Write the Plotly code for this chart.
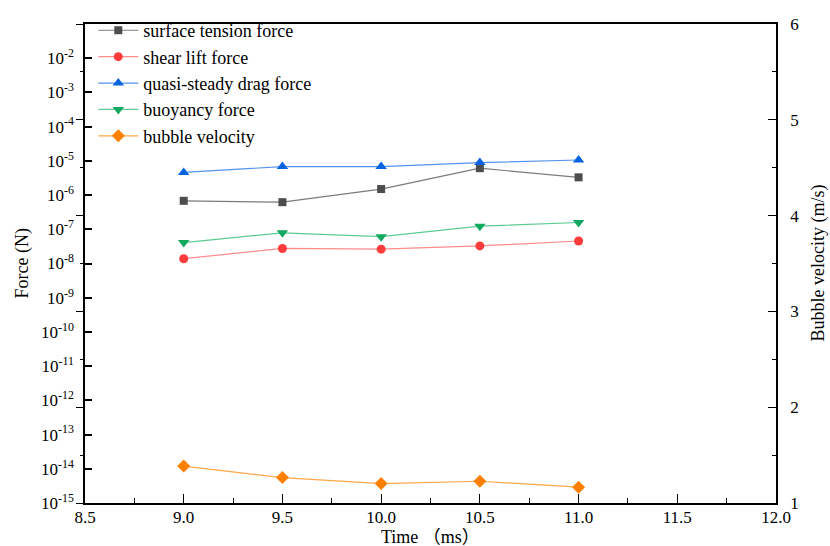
import plotly.graph_objects as go

# Time points (ms)
time_ms = [9.0, 9.5, 10.0, 10.5, 11.0]

# Forces (N)
surface_tension = [6.8e-7, 6.2e-7, 1.5e-6, 6.1e-6, 3.3e-6]
shear_lift = [1.38e-8, 2.75e-8, 2.63e-8, 3.26e-8, 4.55e-8]
quasi_steady_drag = [4.6e-6, 6.8e-6, 6.8e-6, 8.9e-6, 1.06e-5]
buoyancy = [4.1e-8, 7.9e-8, 6.1e-8, 1.23e-7, 1.58e-7]

# Bubble velocity (m/s)
bubble_velocity = [1.385, 1.265, 1.203, 1.227, 1.165]

# Axis ticks
x_ticks = [8.5, 9.0, 9.5, 10.0, 10.5, 11.0, 11.5, 12.0]
force_exponents = list(range(-15, -1))
velocity_ticks = [1, 2, 3, 4, 5, 6]

FONT = "Liberation Serif"

fig = go.Figure()

series = [
    ("surface tension force", surface_tension, "square", 8, "#4d4d4d", "rgba(90,90,90,0.8)"),
    ("shear lift force", shear_lift, "circle", 9, "#ff3b3b", "rgba(255,110,110,0.8)"),
    ("quasi-steady drag force", quasi_steady_drag, "triangle-up", 10, "#0a64e0", "rgba(40,120,230,0.8)"),
    ("buoyancy force", buoyancy, "triangle-down", 10, "#12a860", "rgba(50,190,120,0.8)"),
]
for name, vals, sym, size, mcol, lcol in series:
    fig.add_trace(go.Scatter(
        x=time_ms, y=vals, name=name, mode="lines+markers",
        line=dict(color=lcol, width=1.2),
        marker=dict(symbol=sym, size=size, color=mcol),
        yaxis="y",
    ))

fig.add_trace(go.Scatter(
    x=time_ms, y=bubble_velocity, name="bubble velocity", mode="lines+markers",
    line=dict(color="rgba(255,150,40,0.85)", width=1.2),
    marker=dict(symbol="diamond", size=10, color="#ff8000"),
    yaxis="y2",
))

# Invisible trace to carry the outward ticks of the velocity scale on the left spine
fig.add_trace(go.Scatter(
    x=[None], y=[None], yaxis="y3", showlegend=False, hoverinfo="skip",
))

fig.update_layout(
    width=830, height=546,
    margin=dict(l=85, r=54, t=18, b=43),
    paper_bgcolor="white", plot_bgcolor="white",
    font=dict(family=FONT, size=17, color="black"),
    showlegend=True,
    legend=dict(
        x=0.012, y=1.025, xanchor="left", yanchor="top",
        bgcolor="rgba(0,0,0,0)", font=dict(size=18, family=FONT),
        tracegroupgap=0, itemwidth=40,
    ),
    xaxis=dict(
        range=[8.5, 12.0], tickvals=x_ticks,
        ticktext=[f"{v:.1f}" for v in x_ticks],
        ticks="inside", ticklen=9, tickwidth=1.2, tickcolor="black",
        minor=dict(dtick=0.25, tick0=8.5, ticks="inside", ticklen=5, tickwidth=1.2, tickcolor="black"),
        showline=True, linecolor="black", linewidth=1.5, mirror=True,
        showgrid=False, zeroline=False, automargin=False,
        tickfont=dict(size=17), ticklabelstandoff=-2,
    ),
    yaxis=dict(
        type="log", range=[-15, -1],
        tickvals=[10.0 ** e for e in force_exponents],
        ticktext=[f"10<sup>{e}</sup>" for e in force_exponents],
        ticks="inside", ticklen=7, tickwidth=1.5, tickcolor="black",
        minor=dict(ticks="inside", ticklen=4, tickwidth=1, tickcolor="black", showgrid=False),
        showline=True, linecolor="black", linewidth=1.5,
        showgrid=False, zeroline=False, automargin=False,
        tickfont=dict(size=17), ticklabelstandoff=6,
    ),
    yaxis2=dict(
        overlaying="y", side="right", range=[1, 6],
        tickvals=velocity_ticks,
        ticks="inside", ticklen=8, tickwidth=1.2, tickcolor="black",
        minor=dict(dtick=0.5, tick0=1, ticks="inside", ticklen=4, tickwidth=1.2, tickcolor="black"),
        showline=True, linecolor="black", linewidth=1.5,
        showgrid=False, zeroline=False, automargin=False,
        tickfont=dict(size=17), ticklabelstandoff=9,
    ),
    yaxis3=dict(
        overlaying="y", side="left", range=[1, 6],
        tickvals=velocity_ticks, showticklabels=False,
        ticks="outside", ticklen=8, tickwidth=1.2, tickcolor="black",
        minor=dict(dtick=0.5, tick0=1, ticks="outside", ticklen=4, tickwidth=1.2, tickcolor="black"),
        showline=False, showgrid=False, zeroline=False, automargin=False,
    ),
    annotations=[
        dict(text="Time （ms）", xref="paper", yref="paper", x=0.5, y=0, yshift=-34,
             xanchor="center", yanchor="middle", showarrow=False,
             font=dict(size=18, family=FONT + ", Noto Sans CJK SC")),
        dict(text="Force (N)", xref="paper", yref="paper", x=0, y=0.5, xshift=-63,
             xanchor="center", yanchor="middle", textangle=-90, showarrow=False,
             font=dict(size=18)),
        dict(text="Bubble velocity (m/s)", xref="paper", yref="paper", x=1, y=0.5, xshift=42,
             xanchor="center", yanchor="middle", textangle=-90, showarrow=False,
             font=dict(size=18)),
    ],
)

fig.write_html("out.html")
